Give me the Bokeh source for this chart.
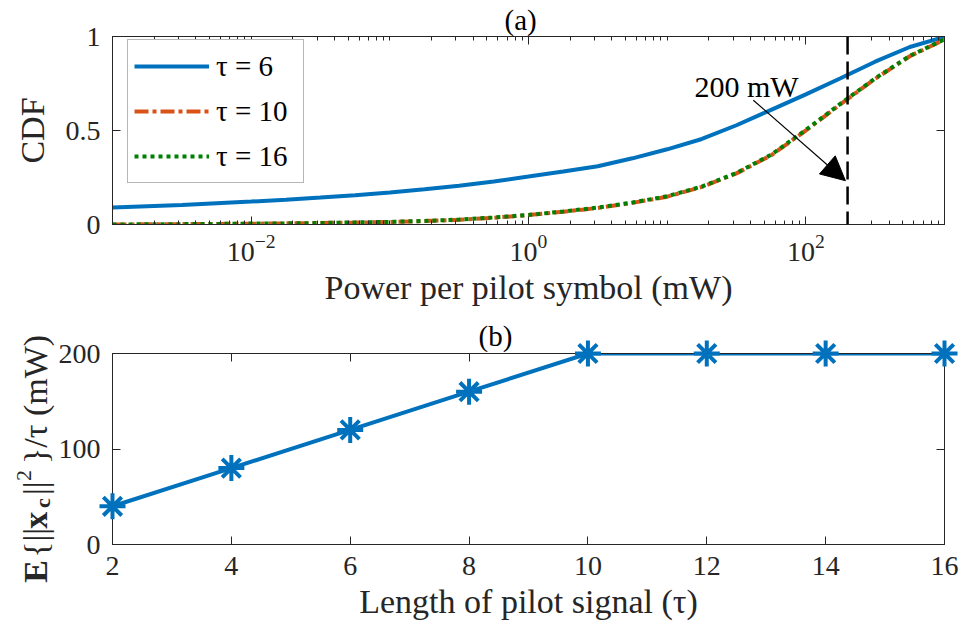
from bokeh.plotting import figure
from bokeh.layouts import column
from bokeh.models import (FixedTicker, LogAxis, LinearAxis, Label, Arrow, NormalHead,
                          CustomJSTickFormatter, Span, Range1d, Title, ColumnDataSource)
from bokeh.core.properties import value
from bokeh.embed import file_html
from bokeh.resources import INLINE

# ---------------- data ----------------
power_mw = [0.001, 0.00178, 0.00316, 0.00562, 0.01, 0.0178, 0.0316, 0.0562, 0.1, 0.178,
            0.316, 0.562, 1, 1.78, 3.16, 5.62, 10, 17.8, 31.6, 56.2, 100, 178, 316, 562, 1000]
cdf_tau6 = [0.090, 0.097, 0.104, 0.113, 0.122, 0.132, 0.143, 0.156, 0.170, 0.187, 0.206,
            0.229, 0.255, 0.282, 0.310, 0.352, 0.400, 0.455, 0.528, 0.610, 0.692, 0.778,
            0.866, 0.944, 0.998]
cdf_tau10 = [0.000, 0.001, 0.002, 0.003, 0.004, 0.006, 0.008, 0.010, 0.013, 0.018, 0.025,
             0.036, 0.050, 0.068, 0.088, 0.115, 0.148, 0.200, 0.272, 0.368, 0.500, 0.640,
             0.775, 0.895, 0.984]
cdf_tau16 = [0.000, 0.001, 0.002, 0.003, 0.005, 0.006, 0.008, 0.011, 0.014, 0.019, 0.026,
             0.037, 0.051, 0.069, 0.090, 0.117, 0.150, 0.202, 0.274, 0.371, 0.503, 0.643,
             0.777, 0.897, 0.985]
power_limit_mw = 200

tau = [2, 4, 6, 8, 10, 12, 14, 16]
power_per_pilot = [40, 80, 120, 160, 200, 200, 200, 200]

x_major_ticks_top = [1e-2, 1, 1e2]
x_minor_ticks_top = [m * 10.0 ** k for k in range(-3, 3) for m in range(1, 10)
                     if not (m == 1 and k in (-2, 0, 2))] + [1e3]
y_ticks_top = [0, 0.5, 1]
y_tick_labels_top = {0: "0", 0.5: "0.5", 1: "1"}
x_ticks_bot = [2, 4, 6, 8, 10, 12, 14, 16]
y_ticks_bot = [0, 100, 200]

# ---------------- style ----------------
BLUE = "#0072BD"
ORANGE = "#D95319"
GREEN = "#008000"
AX = "#262626"
FONT = "Liberation Serif"
TICK_FS = "28px"
LABEL_FS = "34px"


def style_axis(ax, labels=True, standoff=12):
    ax.axis_line_color = AX
    ax.major_tick_line_color = AX
    ax.minor_tick_line_color = AX
    ax.major_tick_in = 8
    ax.major_tick_out = 0
    ax.minor_tick_in = 4
    ax.minor_tick_out = 0
    ax.major_label_text_font = FONT
    ax.major_label_text_font_size = TICK_FS
    ax.major_label_text_color = AX
    ax.major_label_standoff = standoff
    ax.axis_label_text_font = FONT
    ax.axis_label_text_font_size = LABEL_FS
    ax.axis_label_text_font_style = "normal"
    ax.axis_label_text_color = AX
    if not labels:
        ax.formatter = CustomJSTickFormatter(code="return ''")
        ax.major_label_standoff = 0
        ax.major_label_text_font_size = "0px"


def panel_title(text, left_offset, standoff):
    return Title(text=text, align="left", offset=left_offset, standoff=standoff,
                 text_font=FONT, text_font_size="29px", text_font_style="normal",
                 text_color="black")


# ---------------- top: CDF ----------------
p1 = figure(width=963, height=315, x_axis_type="log",
            x_range=Range1d(1e-3, 1e3), y_range=Range1d(0, 1),
            output_backend="svg", toolbar_location=None,
            min_border_left=112, min_border_right=19, min_border_top=35, min_border_bottom=91)
p1.grid.visible = False
p1.outline_line_color = AX
p1.title = panel_title("(a)", 392, 2)

p1.line(power_mw, cdf_tau6, line_color=BLUE, line_width=4, legend_label="τ = 6")
p1.line(power_mw, cdf_tau10, line_color=ORANGE, line_width=4, line_dash="14 4 4 4",
        legend_label="τ = 10")
p1.line(power_mw, cdf_tau16, line_color=GREEN, line_width=4, line_dash="4 4",
        legend_label="τ = 16")

p1.add_layout(Span(location=power_limit_mw, dimension="height", line_color="black",
                   line_width=2.5, line_dash="18 7"))

xa = p1.xaxis[0]
xa.ticker = FixedTicker(ticks=x_major_ticks_top, minor_ticks=x_minor_ticks_top)
style_axis(xa, standoff=10)
xa.axis_label = "Power per pilot symbol (mW)"
xa.axis_label_standoff = 5
ya = p1.yaxis[0]
ya.ticker = FixedTicker(ticks=y_ticks_top)
ya.major_label_overrides = y_tick_labels_top
style_axis(ya)
ya.axis_label = "CDF"
ya.axis_label_standoff = 12

top_ax = LogAxis(ticker=FixedTicker(ticks=x_major_ticks_top, minor_ticks=x_minor_ticks_top))
style_axis(top_ax, labels=False)
p1.add_layout(top_ax, "above")
right_ax = LinearAxis(ticker=FixedTicker(ticks=y_ticks_top))
style_axis(right_ax, labels=False)
p1.add_layout(right_ax, "right")

leg = p1.legend[0]
leg.location = (15, 41)
leg.margin = 0
leg.padding = 6
leg.spacing = 5
leg.glyph_width = 75
leg.glyph_height = 40
leg.label_height = 40
leg.label_width = 81
leg.label_standoff = 7
leg.label_text_font = FONT
leg.label_text_font_size = "29px"
leg.label_text_color = "black"
leg.border_line_color = "#6e6e6e"
leg.border_line_width = 1.5
leg.background_fill_alpha = 1

# annotation: arrow + text
arrow_start = (41.8, 0.661)
arrow_end = (193, 0.233)
p1.add_layout(Arrow(x_start=arrow_start[0], y_start=arrow_start[1],
                    x_end=arrow_end[0], y_end=arrow_end[1], line_width=1.2,
                    end=NormalHead(size=24, fill_color="black", line_color="black")))
p1.add_layout(Label(x=37.4, y=0.735, text=f"{power_limit_mw} mW", text_font=FONT,
                    text_font_size="30px", text_color="black", text_align="center",
                    text_baseline="alphabetic"))

# ---------------- bottom: power vs tau ----------------
p2 = figure(width=963, height=318, x_range=Range1d(2, 16), y_range=Range1d(0, 200),
            output_backend="svg", toolbar_location=None,
            min_border_left=112, min_border_right=19, min_border_top=37,
            min_border_bottom=89)
p2.grid.visible = False
p2.outline_line_color = AX
p2.title = panel_title("(b)", 366, 4)

p2.line(tau, power_per_pilot, line_color=BLUE, line_width=4)
p2.scatter(tau, power_per_pilot, marker="asterisk", size=26, line_color=BLUE,
           line_width=4, level="overlay")

xb = p2.xaxis[0]
xb.ticker = FixedTicker(ticks=x_ticks_bot)
style_axis(xb, standoff=12)
xb.axis_label = "Length of pilot signal (τ)"
xb.axis_label_standoff = 5
yb = p2.yaxis[0]
yb.ticker = FixedTicker(ticks=y_ticks_bot)
style_axis(yb)

top_bx = LinearAxis(ticker=FixedTicker(ticks=x_ticks_bot))
style_axis(top_bx, labels=False)
p2.add_layout(top_bx, "above")
right_bx = LinearAxis(ticker=FixedTicker(ticks=y_ticks_bot))
style_axis(right_bx, labels=False)
p2.add_layout(right_bx, "right")

# rotated y-label of the bottom plot, E{||x_c||^2}/tau (mW), built from styled pieces
# drawn as an unclipped text glyph in the left margin
ylab = ColumnDataSource(dict(
    text=["E", "{||", "x", "c", "||", "2", "}/τ (mW)"],
    x=[0.704, 0.704, 0.704, 0.822, 0.704, 0.519, 0.704],
    y=[-40.0, -13.9, 16.4, 38.3, 51.9, 66.6, 84.3],
    size=["34px", "34px", "34px", "22px", "34px", "22px", "34px"],
    style=["bold", "normal", "bold", "bold", "normal", "normal", "normal"],
))
p2.text(x="x", y="y", text="text", source=ylab, angle=1.5707963,
        text_font=value(FONT), text_font_size="size", text_font_style="style",
        text_color=AX, text_align="left", text_baseline="alphabetic", level="overlay")

layout = column(p1, p2, spacing=0)
open("out.html", "w").write(file_html(layout, INLINE))
